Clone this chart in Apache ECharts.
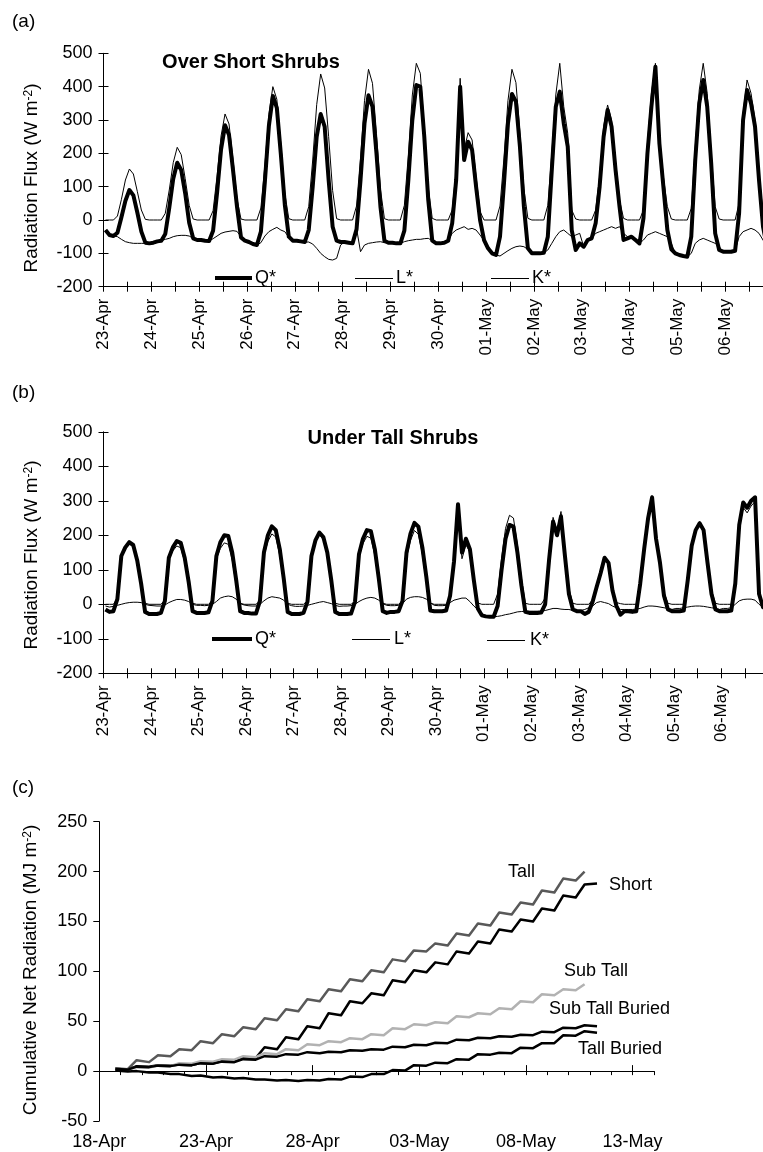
<!DOCTYPE html>
<html>
<head>
<meta charset="utf-8">
<script src="https://cdn.jsdelivr.net/npm/echarts@6.0.0/dist/echarts.min.js"></script>
<style>
  html, body { margin: 0; padding: 0; background: #fff; }
  #chart { width: 763px; height: 1152px; }
</style>
</head>
<body>
<div id="chart"></div>
<script>
var FONT = '"Liberation Sans", Arial, sans-serif';

// (a)(b) 每天的采样时刻 (小时)
var sampleHours = [1, 3, 5, 7, 9, 11, 13, 15, 17, 19, 21, 23];
var dayLabels = ['23-Apr', '24-Apr', '25-Apr', '26-Apr', '27-Apr', '28-Apr', '29-Apr',
  '30-Apr', '01-May', '02-May', '03-May', '04-May', '05-May', '06-May'];

// (a) Over Short Shrubs, W m-2
var qStarA = [
  -30, -45, -48, -38, 8, 58, 90, 74, 22, -35, -68, -70,
  -68, -64, -62, -42, 36, 124, 172, 150, 80, -8, -55, -60,
  -60, -62, -63, -32, 82, 212, 284, 255, 150, 40, -52, -62,
  -66, -72, -75, -35, 115, 282, 372, 336, 198, 46, -50, -62,
  -62, -64, -66, -30, 100, 250, 318, 280, 120, -20, -62, -66,
  -66, -68, -70, -28, 120, 290, 374, 340, 200, 40, -62, -68,
  -68, -70, -70, -32, 120, 300, 405, 400, 250, 60, -62, -70,
  -70, -68, -62, -10, 120, 400, 180, 235, 210, 100, 0, -60,
  -85, -100, -105, -50, 110, 290, 378, 355, 220, 40, -85, -100,
  -100, -100, -98, -50, 150, 340, 385, 290, 220, -30, -90, -70,
  -80, -60, -55, -10, 100, 250, 330, 280, 150, 40, -60, -55,
  -50, -60, -70, 5, 200, 340, 460, 230, 100, -30, -88, -100,
  -105, -108, -110, -50, 180, 350, 420, 340, 170, -40, -90, -95,
  -95, -95, -92, 20, 300, 390, 350, 280, 120, -20, -80, -95
];
var lStarA = [
  -30, -45, -48, -50, -58, -65, -68, -70, -70, -70, -70, -70,
  -68, -64, -62, -58, -55, -50, -47, -46, -46, -48, -55, -60,
  -60, -62, -63, -56, -48, -40, -36, -34, -32, -34, -50, -62,
  -66, -72, -75, -68, -48, -35, -28, -22, -30, -35, -52, -62,
  -62, -64, -66, -66, -72, -85, -100, -110, -118, -120, -115, -75,
  -66, -68, -70, -25, -95, -75, -70, -68, -66, -65, -68, -68,
  -68, -70, -70, -65, -62, -60, -58, -58, -56, -55, -62, -68,
  -70, -68, -62, -40, -30, -25, -20, -28, -25, -30, -45, -62,
  -85, -100, -105, -108, -100, -92, -85, -80, -78, -80, -88, -100,
  -100, -100, -98, -90, -70, -50, -35, -30, -40, -50, -45, -40,
  -80, -60, -55, -40, -35, -30, -25, -20, -25, -20, -40, -50,
  -50, -60, -70, -60, -45, -40, -35, -40, -45, -50, -70, -100,
  -105, -108, -110, -100, -70, -60, -55, -60, -65, -70, -80, -95,
  -95, -95, -92, -50, -35, -30, -25, -30, -40, -60, -80, -95
];
var kStarA = [
  0, 0, 0, 12, 62, 120, 153, 138, 85, 30, 2, 0,
  0, 0, 0, 20, 90, 172, 218, 196, 124, 44, 3, 0,
  0, 0, 0, 28, 132, 252, 318, 288, 182, 64, 3, 0,
  0, 0, 0, 36, 164, 316, 400, 362, 228, 80, 4, 0,
  0, 0, 0, 40, 180, 346, 438, 396, 250, 88, 4, 0,
  0, 0, 0, 42, 186, 358, 452, 410, 260, 92, 4, 0,
  0, 0, 0, 44, 195, 375, 470, 440, 275, 97, 5, 0,
  0, 0, 0, 30, 150, 425, 210, 262, 240, 130, 25, 0,
  0, 0, 0, 42, 186, 358, 452, 412, 262, 94, 5, 0,
  0, 0, 0, 44, 200, 375, 470, 340, 260, 30, 3, 0,
  0, 0, 0, 30, 130, 280, 345, 300, 175, 60, 5, 0,
  0, 0, 0, 30, 230, 380, 470, 250, 130, 40, 3, 0,
  0, 0, 0, 35, 220, 390, 470, 380, 200, 40, 3, 0,
  0, 0, 0, 50, 320, 420, 380, 300, 140, 20, 0, 0
];

// (b) Under Tall Shrubs, W m-2
var qStarB = [
  -15, -22, -20, 15, 140, 165, 180, 172, 128, 60, -22, -28,
  -28, -28, -25, 10, 135, 165, 183, 178, 135, 65, -20, -25,
  -25, -25, -23, 10, 140, 180, 200, 198, 150, 70, -20, -25,
  -25, -27, -27, 10, 150, 200, 226, 215, 160, 75, -22, -28,
  -28, -28, -25, 8, 140, 185, 208, 195, 150, 70, -22, -28,
  -28, -28, -27, 8, 145, 190, 215, 212, 160, 75, -20, -25,
  -22, -22, -20, 10, 150, 205, 236, 225, 165, 80, -18, -20,
  -20, -20, -18, 25, 125, 290, 150, 190, 160, 70, -12, -32,
  -35, -36, -36, -5, 100, 190, 230, 225, 150, 55, -22, -25,
  -25, -25, -24, 0, 130, 240, 200, 255, 140, 30, -15, -20,
  -20, -28, -22, 8, 50, 90, 135, 120, 40, -5, -30, -20,
  -20, -22, -20, 60, 160, 250, 310, 190, 120, 25, -15, -20,
  -20, -20, -18, 70, 170, 215, 235, 215, 120, 30, -15, -20,
  -20, -20, -18, 60, 230, 295, 280, 300, 310, 30, -8, -15
];
var lStarB = [
  -5, -8, -6, -3, 0, 3, 5, 6, 6, 5, 0, -3,
  -4, -5, -5, -2, 5, 10, 14, 14, 12, 8, 0, -3,
  -3, -4, -3, 0, 8, 18, 22, 24, 22, 15, 2, -2,
  -4, -5, -5, 0, 10, 18, 22, 20, 18, 12, 0, -4,
  -6, -6, -5, -3, 0, 3, 6, 8, 5, 2, -3, -6,
  -5, -5, -4, 0, 8, 14, 18, 20, 18, 12, 2, -3,
  -4, -4, -3, 2, 15, 20, 22, 22, 20, 15, 5, -3,
  -4, -4, -3, 5, 12, 15, 18, 18, 8, -5, -15, -25,
  -35, -36, -36, -35, -33, -30, -28, -25, -22, -21, -20, -20,
  -20, -20, -20, -18, -15, -12, -12, -14, -15, -15, -18, -20,
  -18, -15, -10, -5, 5, 8, 5, 2, -5, -10, -15, -15,
  -15, -15, -14, -12, -8, -5, -5, -6, -8, -10, -12, -15,
  -12, -12, -10, -8, -6, -5, -5, -6, -8, -10, -12, -15,
  -12, -12, -10, 0, 10, 14, 15, 15, 12, 0, -8, -12
];
var kStarB = [
  0, 0, 0, 18, 140, 162, 175, 166, 122, 55, 3, 0,
  0, 0, 0, 12, 130, 155, 169, 164, 123, 57, 3, 0,
  0, 0, 0, 10, 132, 162, 178, 174, 128, 55, 3, 0,
  0, 0, 0, 10, 140, 182, 204, 195, 142, 63, 3, 0,
  0, 0, 0, 11, 140, 182, 202, 187, 145, 68, 3, 0,
  0, 0, 0, 8, 137, 176, 197, 192, 142, 63, 3, 0,
  0, 0, 0, 8, 135, 185, 214, 203, 145, 65, 3, 0,
  0, 0, 0, 20, 113, 275, 132, 172, 152, 70, 4, 0,
  0, 0, 0, 30, 133, 220, 258, 250, 172, 76, 3, 0,
  0, 0, 0, 18, 145, 252, 212, 269, 155, 45, 3, 0,
  0, 0, 0, 13, 45, 82, 130, 118, 45, 5, 2, 0,
  0, 0, 0, 72, 168, 255, 315, 196, 128, 35, 3, 0,
  0, 0, 0, 78, 176, 220, 240, 221, 128, 40, 3, 0,
  0, 0, 0, 60, 220, 281, 265, 285, 298, 30, 3, 0
];

// (c) 累计净辐射 MJ m-2, 每天两个读数: 早 8 点, 晚 18 点 (自 18-Apr 起)
var cHours = [8, 18];
var cTickLabels = ['18-Apr', '23-Apr', '28-Apr', '03-May', '08-May', '13-May'];
var tall = [null, 3, 2, 11, 9, 16, 15, 22, 21, 30, 28, 37, 35, 44, 42, 53, 51, 62, 60, 72,
  70, 82, 80, 92, 90, 101, 99, 112, 110, 121, 120, 128, 126, 138, 136, 148, 146, 159,
  157, 169, 167, 181, 179, 193, 191, 200, null, null];
var short = [null, 2, 1.5, 5, 4.5, 6, 5.5, 6.5, 6, 8, 7.5, 10, 9.5, 14, 13, 24, 22, 34, 32, 45,
  43, 58, 56, 70, 68, 78, 76, 91, 89, 101, 99, 109, 107, 120, 118, 130, 128, 142,
  140, 152, 150, 163, 161, 176, 174, 187, 188, null];
var subTall = [null, 2, 1.5, 4, 3.5, 5.5, 5, 8, 7.5, 10, 9.5, 12, 11.5, 15, 14, 18, 17, 22, 21, 27,
  26, 30, 29, 33, 32, 37, 36, 43, 42, 47, 46, 49, 48, 55, 54, 58, 57, 63,
  62, 70, 69, 77, 76, 82, 81, 87, null, null];
var subTallBuried = [null, 2, 1.5, 4.5, 4, 5.5, 5, 6.5, 6, 8, 7.5, 9.5, 9, 12, 11.5, 15, 14.5, 17, 16.5, 19,
  18, 19.5, 19, 21, 20.5, 22, 21.5, 24.5, 24, 26.5, 26, 28.5, 28, 31.5, 31, 33.5, 33, 35,
  34.5, 36.5, 36, 39.5, 39, 43.5, 43, 46, 45, null];
var tallBuried = [null, 0.5, -0.5, 0, -1.5, -1.5, -3, -3, -5, -4.5, -6.5, -6, -7.5, -7, -8.5, -8.5, -9.5, -9, -10, -9,
  -9.5, -8, -8.5, -5.5, -6, -3, -3, 1, 0.5, 6, 5.5, 8.5, 8, 12, 11.5, 17, 16.5, 18.5,
  18, 23.5, 23, 28, 28, 36, 35.5, 40, 38.5, null];

function toPairs(values) {
  var n = sampleHours.length;
  return values.map(function (v, i) {
    return [Math.floor(i / n) * 24 + sampleHours[i % n], v];
  });
}
function toDayPairs(values) {
  return values.map(function (v, i) {
    return [Math.floor(i / 2) + cHours[i % 2] / 24, v];
  });
}

var black = { color: '#000', width: 1 };

function fluxY(grid, inside) {
  return {
    type: 'value', gridIndex: grid, min: -200, max: 500, interval: 100,
    axisLine: { show: !inside, lineStyle: black },
    axisTick: { show: true, inside: inside, length: 5, lineStyle: black },
    axisLabel: { show: !inside, color: '#000', fontFamily: FONT, fontSize: 18, margin: 11 },
    splitLine: { show: false }
  };
}
function hourX(grid, max, inside) {
  return {
    type: 'value', gridIndex: grid, min: 0, max: max, interval: 12,
    axisLine: { show: !inside, onZero: false, lineStyle: black },
    axisTick: { show: true, inside: inside, length: 5, lineStyle: black },
    axisLabel: {
      show: !inside, rotate: 90, color: '#000', fontFamily: FONT, fontSize: 17, margin: 12,
      formatter: function (v) { return v % 24 === 0 ? (dayLabels[v / 24] || '') : ''; }
    },
    splitLine: { show: false }
  };
}
function line(name, xi, data, width, color) {
  return {
    name: name, type: 'line', xAxisIndex: xi, yAxisIndex: xi, data: data,
    symbol: 'none', silent: true,
    lineStyle: { color: color || '#000', width: width, join: 'round' }
  };
}
function label(x, y, text, size, opt) {
  opt = opt || {};
  return {
    type: 'text', x: x, y: y, rotation: opt.rotation || 0, silent: true,
    style: {
      text: text, fill: '#000', fontFamily: FONT, fontSize: size,
      fontWeight: opt.bold ? 'bold' : 'normal',
      align: opt.align || 'left', verticalAlign: 'middle',
      textAlign: opt.align || 'left', textVerticalAlign: 'middle',
      rich: { sup: { fontSize: 12, fontFamily: FONT, fill: '#000', verticalAlign: 'top' } }
    }
  };
}
function key(x1, x2, y, w) {
  return { type: 'line', silent: true, shape: { x1: x1, y1: y, x2: x2, y2: y }, style: { stroke: '#000', lineWidth: w } };
}
function grid(left, top, width, height) {
  return { left: left, top: top, width: width, height: height, outerBoundsMode: 'none', containLabel: false };
}

var chart = echarts.init(document.getElementById('chart'));
chart.setOption({
  animation: false,
  backgroundColor: '#fff',
  grid: [
    grid(103.5, 53.3, 659.5, 233.4),
    grid(103.5, 431.8, 659.5, 241.5),
    grid(99.3, 821.7, 554.6, 299.3),
    grid(103.5, 53.3, 659.5, 233.4),
    grid(103.5, 431.8, 659.5, 241.5),
    grid(99.3, 821.7, 533.3, 299.3)
  ],
  xAxis: [
    hourX(0, 331, false),
    hourX(1, 333, false),
    {
      type: 'value', gridIndex: 2, min: 0, max: 26, interval: 1,
      axisLine: { onZero: true, lineStyle: black },
      axisTick: { length: 4, lineStyle: black },
      axisLabel: {
        color: '#000', fontFamily: FONT, fontSize: 18, margin: 12,
        formatter: function (v) { return v % 5 === 0 ? (cTickLabels[v / 5] || '') : ''; }
      },
      splitLine: { show: false }
    },
    hourX(3, 331, true),
    hourX(4, 333, true),
    {
      type: 'value', gridIndex: 5, min: 0, max: 25, interval: 5,
      axisLine: { show: false, onZero: true },
      axisTick: { inside: true, length: 6, lineStyle: black },
      axisLabel: { show: false },
      splitLine: { show: false }
    }
  ],
  yAxis: [
    fluxY(0, false),
    fluxY(1, false),
    {
      type: 'value', gridIndex: 2, min: -50, max: 250, interval: 50,
      axisLine: { show: true, lineStyle: black },
      axisTick: { show: true, length: 6, lineStyle: black },
      axisLabel: { color: '#000', fontFamily: FONT, fontSize: 18, margin: 12 },
      splitLine: { show: false }
    },
    fluxY(3, true),
    fluxY(4, true),
    {
      type: 'value', gridIndex: 5, min: -50, max: 250, interval: 50,
      axisLine: { show: false }, axisTick: { show: false }, axisLabel: { show: false },
      splitLine: { show: false }
    }
  ],
  series: [
    line('Q*', 0, toPairs(qStarA), 4),
    line('L*', 0, toPairs(lStarA), 1),
    line('K*', 0, toPairs(kStarA), 1),
    line('Q*', 1, toPairs(qStarB), 4),
    line('L*', 1, toPairs(lStarB), 1),
    line('K*', 1, toPairs(kStarB), 1),
    line('Tall', 2, toDayPairs(tall), 2.5, '#595959'),
    line('Short', 2, toDayPairs(short), 2.5, '#000'),
    line('Sub Tall', 2, toDayPairs(subTall), 2.5, '#b2b2b2'),
    line('Sub Tall Buried', 2, toDayPairs(subTallBuried), 2.5, '#000'),
    line('Tall Buried', 2, toDayPairs(tallBuried), 2.5, '#000')
  ],
  graphic: [
    label(12, 22, '(a)', 19),
    label(12, 393, '(b)', 19),
    label(12, 788, '(c)', 19),
    label(251, 62, 'Over Short Shrubs', 20, { bold: true, align: 'center' }),
    label(393, 438, 'Under Tall Shrubs', 20, { bold: true, align: 'center' }),
    label(32, 178, 'Radiation Flux (W m{sup|-2})', 19, { rotation: Math.PI / 2, align: 'center' }),
    label(32, 555, 'Radiation Flux (W m{sup|-2})', 19, { rotation: Math.PI / 2, align: 'center' }),
    label(31, 970, 'Cumulative Net Radiation (MJ m{sup|-2})', 19, { rotation: Math.PI / 2, align: 'center' }),
    key(215, 252, 278, 4), label(255, 278, 'Q*', 18),
    key(355, 393, 278.5, 1), label(396, 278, 'L*', 18),
    key(491, 529, 278.5, 1), label(532, 278, 'K*', 18),
    key(212, 252, 639, 4), label(255, 639, 'Q*', 18),
    key(352, 390, 639.5, 1), label(394, 639, 'L*', 18),
    key(487, 525, 640.5, 1), label(530, 640, 'K*', 18),
    label(508, 872, 'Tall', 18),
    label(609, 885, 'Short', 18),
    label(564, 971, 'Sub Tall', 18),
    label(549, 1009, 'Sub Tall Buried', 18),
    label(578, 1049, 'Tall Buried', 18)
  ]
});
</script>
</body>
</html>
